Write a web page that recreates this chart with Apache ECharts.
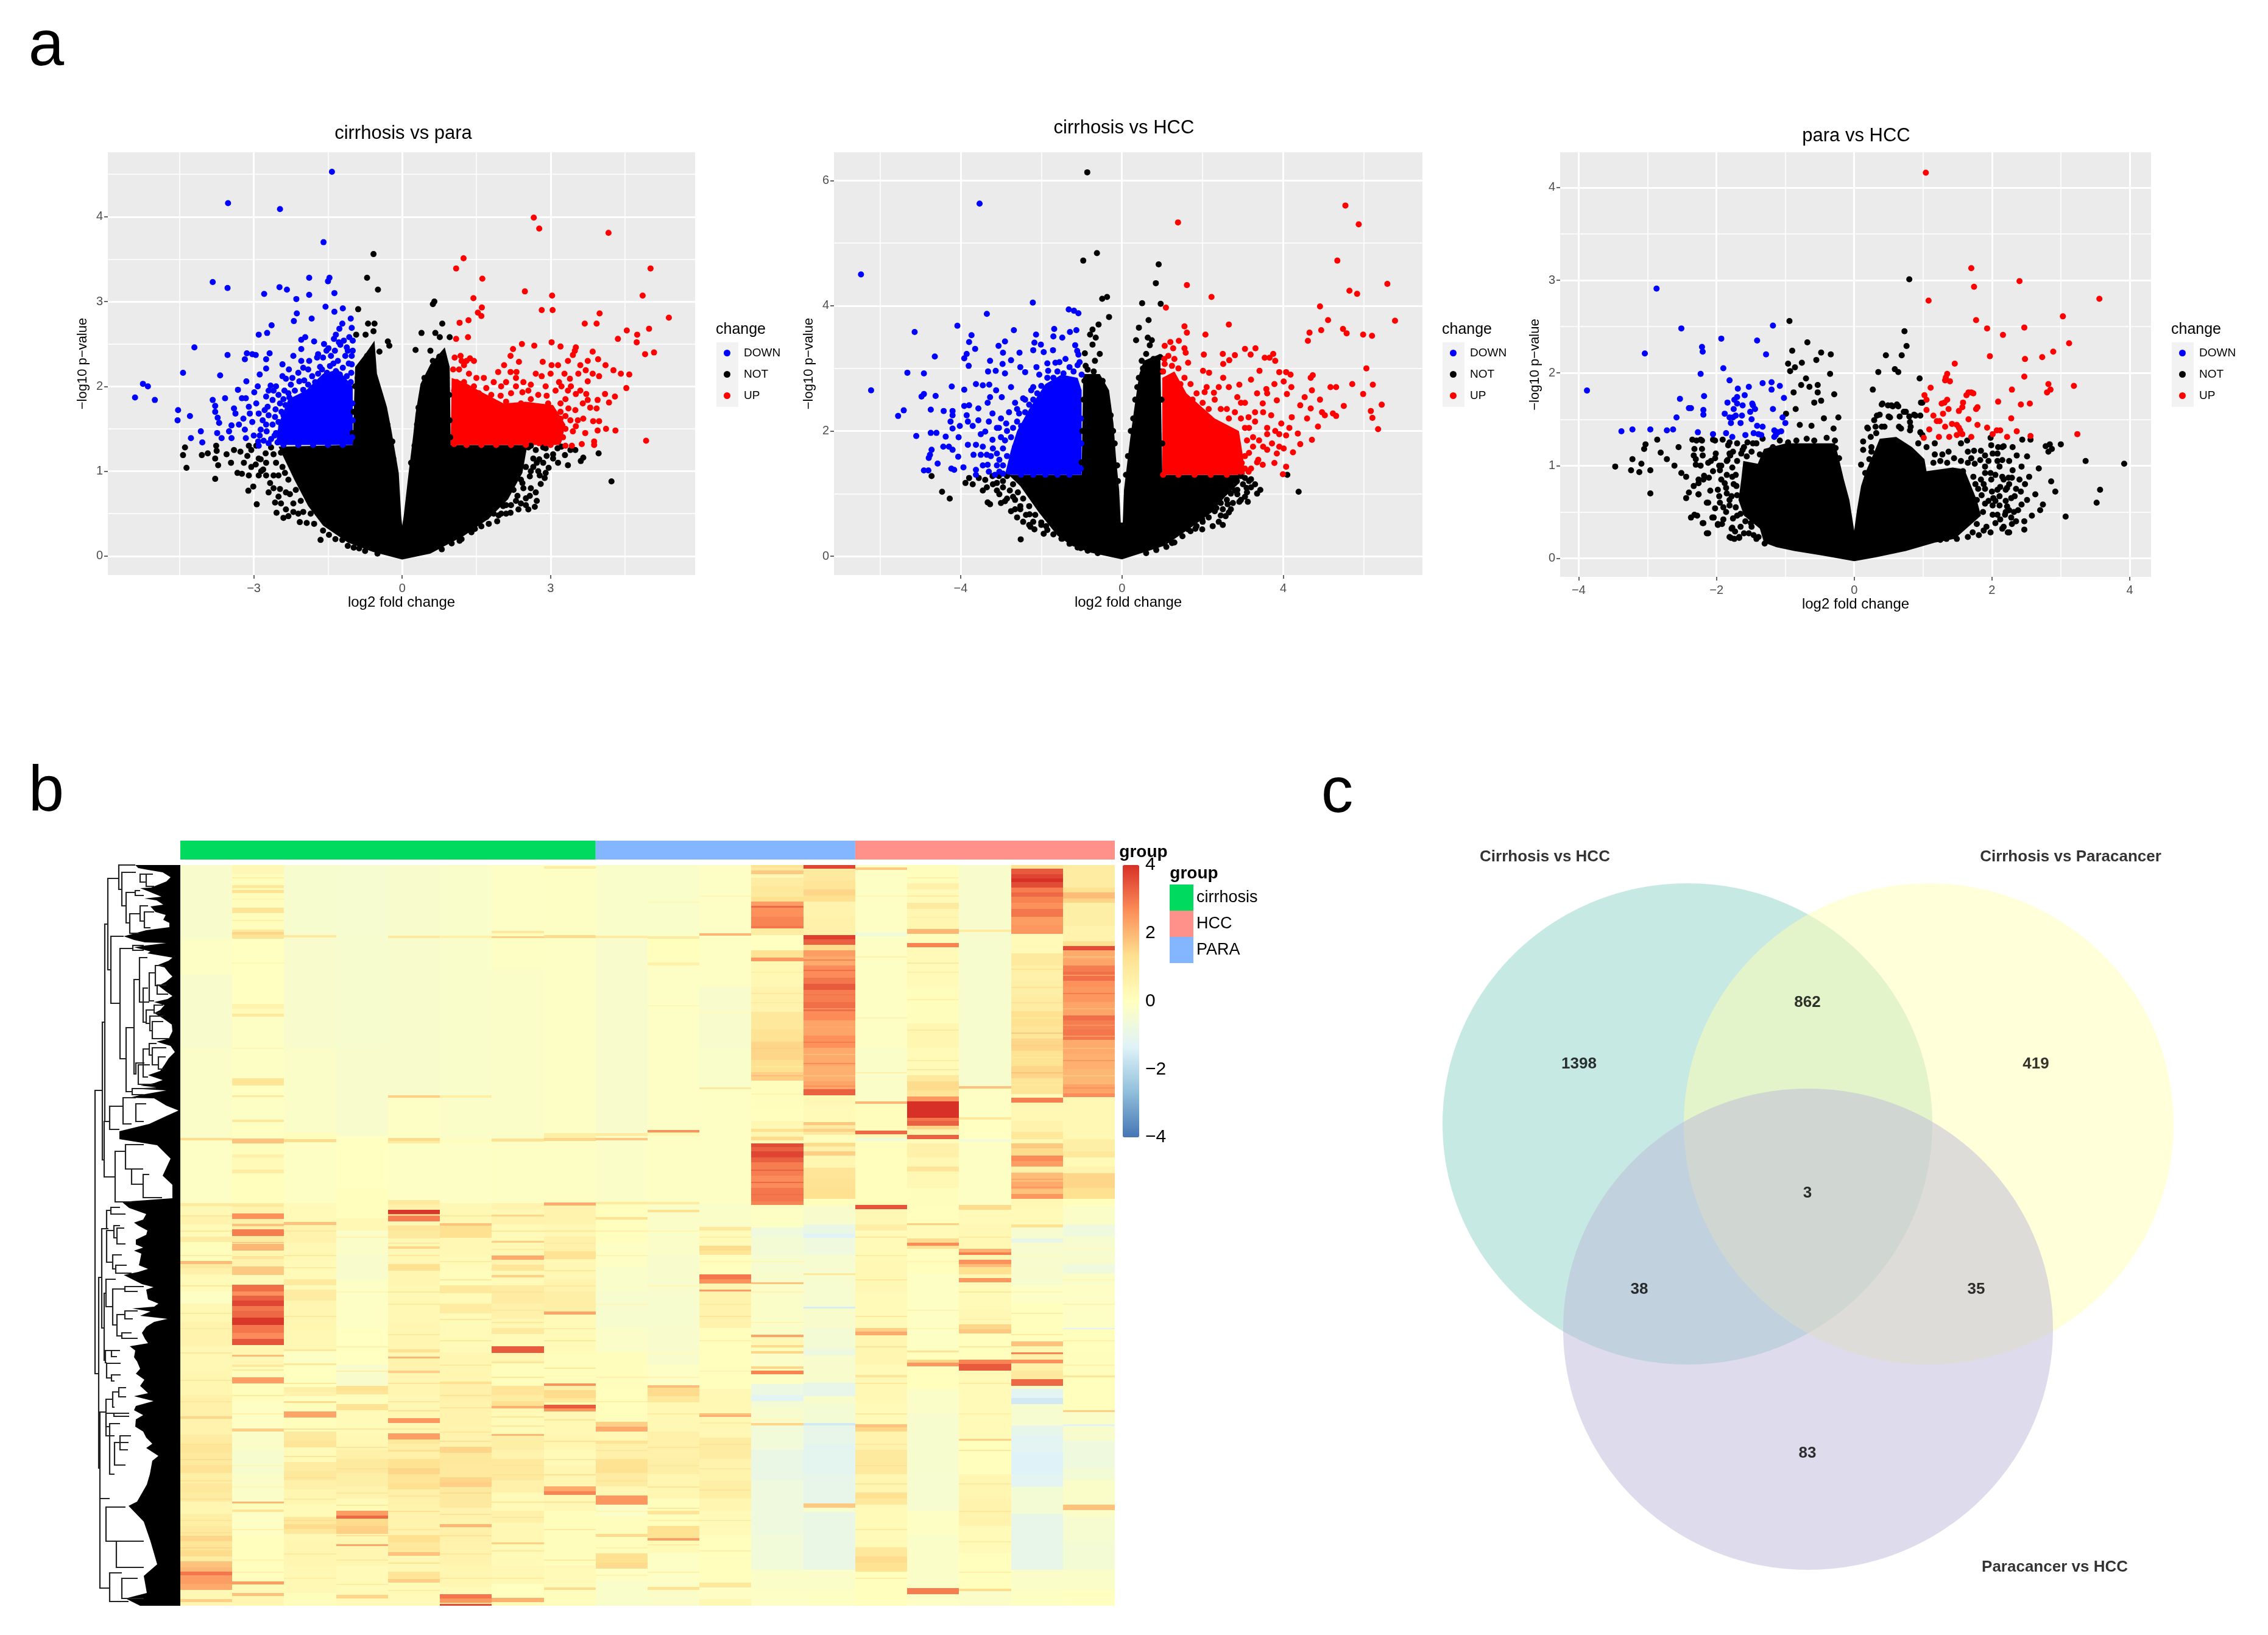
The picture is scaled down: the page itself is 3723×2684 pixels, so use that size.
<!DOCTYPE html>
<html><head><meta charset="utf-8"><style>html,body{margin:0;padding:0;background:#fff}#c{width:3723px;height:2684px}</style>
<script src="https://cdn.jsdelivr.net/npm/echarts@6/dist/echarts.min.js"></script></head>
<body><div id="c"></div>
<script>
// ---------- panel a: volcano plots (log2 fold change, -log10 p) ----------
const p1Down=[[-1.42,4.53],[-3.52,4.16],[-2.47,4.09],[-1.59,3.7],[-1.88,3.28],[-1.47,3.28],[-1.5,3.24],[-3.83,3.23],[-2.48,3.17],[-3.53,3.16],[-2.33,3.14],[-2.79,3.09],[-1.88,3.08],[-1.37,3.1],[-2.14,3.03],[-1.55,2.94],[-1.2,2.92],[-1.37,2.88],[-2.13,2.86],[-1.83,2.8],[-1.04,2.8],[-2.19,2.77],[-1.21,2.74],[-2.64,2.72],[-1.02,2.69],[-1.27,2.68],[-2.73,2.63],[-2.9,2.61],[-1.34,2.61],[-1.96,2.58],[-1.07,2.58],[-1.38,2.56],[-2.04,2.55],[-1.78,2.53],[-1,2.54],[-1.25,2.49],[-4.2,2.46],[-2.04,2.44],[-1.49,2.45],[-1.12,2.46],[-1,2.42],[-1.53,2.42],[-2.68,2.39],[-3.14,2.39],[-3.03,2.38],[-2.96,2.37],[-3.53,2.37],[-1.7,2.38],[-1.72,2.34],[-2.2,2.36],[-3.18,2.32],[-2.75,2.32],[-1.02,2.36],[-2.04,2.3],[-1.88,2.3],[-2.42,2.26],[-1.39,2.27],[-1.02,2.26],[-1.66,2.23],[-2.29,2.2],[-2.75,2.21],[-4.43,2.16],[-3.68,2.13],[-2.88,2.14],[-2.1,2.16],[-2.42,2.12],[-2.35,2.09],[-3.15,2.06],[-5.24,2.03],[-5.14,2],[-2.66,2.01],[-2.92,2],[-1.98,2.07],[-3.32,1.96],[-2.99,1.93],[-5.4,1.87],[-5,1.84],[-3.83,1.84],[-3.58,1.86],[-3.24,1.86],[-3.16,1.86],[-2.75,1.88],[-3.4,1.74],[-3.78,1.77],[-4.53,1.72],[-3.78,1.7],[-3.1,1.76],[-4.29,1.65],[-3.37,1.68],[-3.73,1.63],[-4.54,1.6],[-3.08,1.68],[-3.21,1.62],[-3.7,1.57],[-3.03,1.58],[-3.45,1.54],[-3.3,1.55],[-4.07,1.47],[-3.5,1.47],[-3.74,1.45],[-3.18,1.49],[-2.86,1.49],[-3.65,1.39],[-3.45,1.39],[-4.27,1.39],[-3.16,1.39],[-4.04,1.34],[-2.91,1.35],[-2.57,1.64],[-2.72,1.76],[-2.47,1.8],[-2.6,1.95],[-2.3,1.92],[-2.55,1.45],[-2.65,1.38],[-2.75,1.55],[-2.4,1.85],[-3,1.42],[-2.9,1.68]];
const p1DownEdge=[[-2.88,1.42],[-2.8,1.36],[-2.74,1.47],[-2.7,1.33],[-2.62,1.55],[-2.58,1.42],[-2.52,1.34],[-2.5,1.58],[-2.46,1.47],[-2.4,1.66],[-2.38,1.38],[-2.33,1.56],[-2.3,1.72],[-2.28,1.44],[-2.24,1.62],[-2.21,1.8],[-2.82,1.6],[-2.78,1.72],[-2.7,1.66],[-2.62,1.84],[-2.56,1.73],[-2.5,1.9],[-2.44,1.7],[-2.38,1.95],[-2.36,1.78],[-2.28,1.87],[-2.25,2.02],[-2.17,1.95],[-2.13,1.84],[-2.08,2.06],[-2.05,1.78],[-2,1.96],[-1.96,1.88],[-1.9,2.02],[-1.85,1.95],[-1.82,2.12],[-1.76,2.05],[-1.7,2.15],[-1.66,1.98],[-1.62,2.2],[-1.58,2.08],[-1.52,2.16],[-1.46,2.24],[-1.4,2.12],[-1.34,2.18],[-1.3,2.3],[-1.26,2.14],[-1.2,2.22],[-1.15,2.36],[-1.12,2.12],[-1.08,2.27],[-1.04,2.05],[-1.03,2.16],[-1.6,2.34],[-1.44,2.36],[-1.36,2.42],[-1.28,2.52],[-1.18,2.54],[-1.1,2.42],[-1.58,2.5],[-1.9,2.2],[-2,2.22],[-2.22,2.1],[-2.55,2],[-2.7,1.95],[-2.95,1.8],[-2.9,1.3],[-2.4,1.31],[-2.1,1.31],[-1.8,1.31],[-1.5,1.31],[-1.2,1.31],[-1.01,1.4],[-1,1.6],[-1.01,1.8]];
const p1Up=[[4.17,3.81],[2.66,3.99],[2.77,3.86],[1.24,3.51],[5.02,3.39],[1.09,3.39],[1.62,3.27],[2.48,3.12],[3.03,3.07],[4.86,3.07],[1.44,3.04],[1.61,2.93],[2.82,2.9],[3.04,2.9],[1.53,2.87],[3.99,2.86],[1.6,2.83],[5.39,2.81],[1.34,2.78],[1.16,2.75],[3.69,2.74],[3.93,2.74],[4.99,2.68],[4.54,2.66],[4.75,2.61],[1.33,2.58],[1.09,2.56],[4.36,2.56],[4.74,2.52],[3.02,2.52],[2.42,2.5],[2.67,2.48],[3.2,2.47],[3.51,2.46],[2.24,2.44],[3.49,2.42],[3.85,2.41],[5.09,2.4],[4.91,2.38],[3.45,2.37],[1.18,2.36],[1.06,2.34],[2.19,2.36],[1.37,2.33],[3.96,2.32],[1.45,2.3],[2.36,2.29],[2.84,2.29],[3.02,2.25],[4.11,2.25],[1.25,2.25],[2.06,2.25],[4.27,2.19],[2.19,2.17],[2.31,2.17],[3.71,2.19],[1.94,2.17],[3.28,2.15],[3.56,2.15],[4.42,2.15],[4.59,2.14],[3.98,2.12],[2.82,2.12],[3.17,2.05],[3.75,2.06],[3.39,2.09],[4.53,1.98],[4.1,1.91],[3.22,2],[3.41,2],[4.3,1.88],[3.72,1.91],[3.95,1.84],[4.18,1.81],[3.51,1.91],[3.75,1.84],[2.43,1.93],[2.92,1.89],[1.99,1.89],[3.93,1.74],[3.36,1.74],[3.86,1.59],[3.98,1.59],[3.66,1.62],[3.51,1.53],[3.95,1.48],[4.12,1.5],[4.31,1.48],[4.93,1.36],[3.43,1.3],[3.63,1.32],[3.88,1.35],[3.88,1.31],[3.45,1.47],[3.02,1.39],[3.17,1.37],[2.77,1.33],[3.12,1.52],[1.7,1.98],[2.1,2.05],[2.6,2.02],[1.5,2.1],[1.25,2.05],[3.2,1.8],[3.3,1.65],[3.5,1.72],[3.25,1.4]];
const p1UpEdge=[[1.05,1.32],[1.3,1.31],[1.6,1.31],[1.9,1.31],[2.2,1.31],[2.5,1.31],[2.7,1.42],[2.9,1.33],[3.05,1.55],[3.2,1.62],[3.3,1.5],[3.4,1.6],[3.55,1.6],[3.65,1.8],[3.8,1.75],[3.6,1.95],[3.3,1.85],[3.1,1.95],[2.9,2],[2.75,1.9],[2.55,1.95],[2.6,1.85],[2.4,1.8],[2.3,2],[2.2,1.92],[2.1,1.82],[2,2],[1.85,2.05],[1.8,1.9],[1.65,2.1],[1.55,1.92],[1.45,2],[1.35,2.15],[1.25,2],[1.15,2.2],[1.1,2.05],[1.03,2.2],[1.05,1.95],[1.2,2.3],[1.3,2.3],[2.3,2.1],[2.45,2.05],[2.7,2.15],[3,2.15],[3.15,2.25],[3.35,2.3],[3.6,2.25],[3.75,2.3],[3.85,2.15],[3.35,1.95],[3.7,1.45],[3.3,1.3],[3,1.31],[2.9,1.62],[2.95,1.8],[3.2,1.7]];
const p1Not=[[-0.58,3.56],[-0.71,3.28],[-0.49,3.14],[0.65,3],[0.62,2.97],[-0.89,2.91],[-0.69,2.74],[-0.56,2.74],[0.81,2.74],[-0.93,2.61],[-0.74,2.61],[-0.58,2.65],[-0.29,2.53],[-0.26,2.48],[0.39,2.63],[0.67,2.63],[0.76,2.58],[0.96,2.58],[0.27,2.43],[0.57,2.42],[-0.46,2.41],[-0.71,2.36],[-4.39,1.28],[-4.43,1.19],[-4.36,1.04],[-4.05,1.19],[-3.93,1.21],[-3.76,1.3],[-3.75,1.24],[-3.78,1.15],[-3.72,1.07],[-3.78,0.91],[-3.46,1.1],[-3.27,1.23],[-3.33,0.98],[-3.24,0.97],[-3.11,0.77],[-3.01,0.82],[-2.94,0.61],[-3.13,1.18],[-2.96,1.08],[-2.81,1.02],[-2.67,0.86],[-2.57,0.63],[-2.54,0.51],[-2.3,0.47],[-2.27,0.73],[-2.07,0.4],[-1.93,0.39],[-1.65,0.19],[-1.21,0.19],[-1.1,0.12],[-0.87,0.09],[-2.76,1.21],[-2.86,1.14],[-2.47,0.79],[-2.37,0.98],[-2.6,1.2],[-3.05,1.25],[4.23,0.88],[3.97,1.21],[3.66,1.16],[3.61,1.12],[3.35,1.07],[3.29,1.19],[3.14,1.27],[2.96,1.04],[2.88,0.92],[2.68,0.58],[2.5,0.6],[2.58,0.71],[2.19,0.51],[1.92,0.41],[1.47,0.32],[1.16,0.18],[2.92,1.18],[2.77,1.14],[2.58,0.94],[2.43,0.86],[3.22,1.29],[2.33,0.71],[2.04,0.59],[1.7,0.46],[2.7,1.25],[2.85,1.28],[2.65,1.05]];
const p1NotEdge=[[-2.45,1.22],[-2.55,1.1],[-2.42,1.05],[-2.5,0.95],[-2.3,0.9],[-2.35,0.75],[-2.15,0.78],[-2.2,0.62],[-2.05,0.65],[-2,0.52],[-1.85,0.5],[-1.78,0.38],[-1.6,0.3],[-1.48,0.25],[-1.35,0.2],[-0.98,0.1],[-0.75,0.06],[-0.5,0.03],[-2.65,1.28],[-2.75,1.1],[-2.85,1],[-2.6,0.95],[-1,1.45],[-0.98,1.7],[-0.95,2],[-0.9,2.1],[-0.8,2.2],[-0.7,2.3],[-0.6,2.2],[-0.55,2],[-0.45,1.9],[-0.4,1.7],[-0.3,1.55],[-0.2,1.35],[-0.18,1.15],[0.18,1.1],[0.25,1.3],[0.3,1.55],[0.33,1.75],[0.42,1.9],[0.45,2.1],[0.55,2.15],[0.62,2.3],[0.75,2.35],[0.85,2.3],[0.9,2.1],[0.95,1.9],[0.96,1.6],[0.97,1.4],[2.55,1.28],[2.65,1.15],[2.5,1.05],[2.6,1],[2.4,0.9],[2.45,0.8],[2.25,0.78],[2.3,0.65],[2.1,0.6],[2,0.5],[1.85,0.5],[1.75,0.38],[1.6,0.35],[1.4,0.28],[1.2,0.2],[1,0.15],[0.8,0.08],[2.75,1],[2.85,1.1],[2.8,0.85],[2.7,0.75],[2.55,0.55],[2.35,0.55],[-2.95,1.3],[-3.1,1.3],[-2.9,1.15],[-3.05,1.05],[-2.9,0.95],[-2.75,0.95],[-2.7,0.75],[-2.6,0.8],[-2.5,0.7],[-2.45,0.62],[-2.35,0.55],[-2.2,0.52],[-2.4,0.45],[-2.1,0.5],[-3.2,1.1],[-3.4,1.25],[-3.55,1.2],[-3.1,0.95],[2.6,1.3],[2.72,1.1],[2.9,1.27],[3.05,1.15],[3.15,1.1],[2.9,0.98],[2.78,0.95],[2.72,0.65],[2.6,0.8],[2.5,0.68],[2.4,0.62],[2.2,0.6],[2.1,0.5],[1.95,0.48],[3.05,1.2],[3.4,1.25],[3.5,1.25]];
const p1BlackMass=[[0,-0.04],[-0.6,0.05],[-1.1,0.16],[-1.6,0.36],[-1.9,0.59],[-2.18,0.9],[-2.5,1.29],[-1,1.31],[-0.95,2.23],[-0.75,2.38],[-0.56,2.54],[-0.51,2.15],[-0.31,1.76],[-0.22,1.49],[-0.07,0.98],[-0.02,0.47],[0,0.36],[0.03,0.47],[0.13,0.98],[0.22,1.41],[0.27,1.68],[0.37,2.03],[0.57,2.26],[0.86,2.46],[0.96,2.23],[0.98,1.31],[2.53,1.31],[2.43,0.98],[2.14,0.67],[1.75,0.44],[1.25,0.24],[0.57,0.03]];
const p1BlueMass=[[-1,1.31],[-1,2],[-1.3,2.2],[-1.6,2.15],[-1.95,1.95],[-2.3,1.85],[-2.5,1.55],[-2.55,1.31]];
const p1RedMass=[[0.98,1.31],[1,2.1],[1.25,2.05],[1.55,1.95],[2.05,1.8],[2.5,1.82],[3.05,1.78],[3.3,1.55],[3.2,1.31]];

const p2Down=[[-6.47,4.5],[-3.53,5.63],[-2.21,4.05],[-3.35,3.87],[-1.32,3.94],[-1.19,3.92],[-1.08,3.88],[-4.08,3.68],[-5.14,3.58],[-2.68,3.61],[-1.68,3.63],[-1.13,3.61],[-3.73,3.53],[-2.13,3.54],[-1.7,3.51],[-1.29,3.58],[-1.48,3.49],[-3.79,3.42],[-2.9,3.43],[-3.06,3.36],[-2.17,3.41],[-3.64,3.31],[-2.2,3.29],[-1.16,3.37],[-2.01,3.38],[-1.71,3.29],[-2.54,3.25],[-2.95,3.25],[-3.85,3.23],[-4.64,3.19],[-3.91,3.16],[-1.94,3.26],[-1.11,3.28],[-1.08,3.22],[-3.27,3.12],[-2.75,3.13],[-2.96,3.07],[-3.8,3.04],[-2.52,3.02],[-2.12,3.02],[-1.65,3.09],[-3.32,2.95],[-3.13,2.96],[-5.32,2.93],[-4.91,2.92],[-2.9,2.92],[-2.4,2.94],[-1.83,2.96],[-3.62,2.75],[-3.45,2.73],[-3.29,2.74],[-4.22,2.71],[-3.91,2.66],[-6.22,2.65],[-3.12,2.65],[-2.75,2.7],[-4.91,2.59],[-4.62,2.56],[-4.97,2.55],[-3.27,2.54],[-2.98,2.54],[-3.33,2.45],[-3.79,2.41],[-3.91,2.4],[-5.41,2.33],[-4.74,2.34],[-4.42,2.32],[-4.2,2.32],[-3.56,2.36],[-5.55,2.24],[-4.2,2.25],[-3.85,2.25],[-3.21,2.28],[-4.25,2.15],[-3.56,2.17],[-3.82,2.15],[-4.74,1.97],[-4.6,1.97],[-4.2,2.04],[-5.1,1.92],[-4.02,2.08],[-3.7,2.08],[-4.37,1.91],[-4.05,1.9],[-3.39,1.99],[-4.43,1.75],[-4.29,1.75],[-3.82,1.78],[-3.62,1.78],[-4.2,1.7],[-4.72,1.7],[-4.76,1.62],[-4.06,1.59],[-4.79,1.57],[-3.68,1.62],[-4.57,1.48],[-3.93,1.42],[-4.23,1.4],[-4.16,1.38],[-4.91,1.37],[-4.8,1.37],[-3.62,1.38],[-3.62,1.3],[-3.33,1.46],[-3.1,1.64],[-3.04,1.35],[-3.21,1.86],[-2.87,2.12],[-3.04,1.54],[-2.6,2.35],[-2.4,2.5],[-2.2,2.7],[-2.9,1.85],[-3.05,2.05],[-3.25,1.6],[-3.45,1.75],[-3.45,1.45],[-2.95,1.45]];
const p2DownEdge=[[-2.95,1.32],[-2.8,1.35],[-2.7,1.5],[-2.85,1.6],[-2.95,1.72],[-2.65,1.75],[-2.75,1.9],[-3.1,1.45],[-3.2,1.72],[-3.35,1.62],[-3.5,1.62],[-3.3,1.35],[-3.15,1.3],[-2.85,2],[-2.7,2.05],[-2.6,2.15],[-2.5,2.08],[-2.4,2.3],[-2.3,2.42],[-2.2,2.5],[-2.55,2.28],[-2.45,2.52],[-2.1,2.6],[-2,2.72],[-1.85,2.85],[-1.7,2.85],[-1.6,2.95],[-1.45,2.92],[-1.3,3.02],[-1.2,2.95],[-1.1,3.05],[-1,2.9],[-1.05,3.1],[-1.4,3.15],[-1.55,3.1],[-1.85,3.08],[-2.05,2.9],[-2.25,2.65],[-2.65,2.45],[-2.8,2.3],[-3,2.2],[-3.1,2.05],[-3.3,2.15],[-3.5,1.95],[-3,1.9],[-1.02,1.4],[-1.01,1.8],[-1.02,2.2],[-1.6,1.3],[-2.2,1.3],[-2.5,1.3],[-1.9,1.3],[-1.3,1.3]];
const p2Up=[[5.54,5.6],[5.87,5.3],[1.39,5.33],[5.34,4.72],[6.58,4.35],[1.61,4.33],[5.64,4.24],[5.83,4.19],[2.22,4.14],[4.91,3.99],[1.09,3.97],[5.11,3.77],[6.77,3.76],[2.65,3.7],[1.55,3.67],[5.48,3.63],[4.94,3.61],[4.65,3.57],[5.57,3.56],[1.61,3.57],[2.07,3.54],[5.98,3.54],[6.2,3.52],[4.61,3.44],[1.2,3.42],[1.06,3.36],[1.41,3.44],[1.27,3.32],[1.55,3.32],[3.05,3.31],[3.31,3.32],[1.58,3.25],[2.03,3.22],[2.5,3.23],[2.8,3.21],[3.19,3.22],[3.75,3.23],[3.54,3.17],[3.66,3.17],[3.8,3.12],[2.66,3.13],[2.51,3.07],[1.24,3.04],[1.06,3.07],[1.64,3.09],[6.06,3],[3.41,2.96],[3.9,2.94],[4.07,2.94],[2.01,2.96],[2.16,2.93],[4.18,2.9],[4.73,2.89],[4.68,2.85],[2.51,2.85],[3.2,2.82],[4.01,2.79],[3.78,2.75],[5.71,2.75],[6.22,2.74],[2.91,2.74],[5.17,2.7],[5.31,2.7],[3.58,2.67],[4.71,2.65],[5.98,2.59],[2.05,2.62],[2.28,2.61],[4.53,2.54],[4.91,2.5],[4.09,2.59],[2.86,2.54],[6.44,2.42],[5.5,2.4],[3.84,2.49],[3.49,2.44],[4.42,2.41],[4.68,2.36],[6.17,2.32],[4.96,2.3],[5.23,2.28],[5.03,2.25],[5.31,2.24],[6.21,2.21],[4.59,2.2],[4.21,2.22],[3.14,2.22],[4.86,2.07],[6.35,2.03],[3.95,2.12],[4.36,1.96],[4.07,1.93],[4.71,1.86],[4.42,1.79],[3.72,1.8],[4.01,1.72],[4.24,1.66],[3.84,1.64],[3.49,1.46],[3.78,1.49],[4.07,1.43],[3.99,1.31],[3.38,1.54],[3.14,1.35],[2.97,1.49],[3.3,2.3],[3.6,2.05],[3.25,1.9],[3.5,1.75],[3.15,1.65],[3.9,1.95],[3.05,2.05],[3.35,2.6],[3.05,2.45],[2.6,2.35]];
const p2UpEdge=[[1.02,1.3],[1.4,1.3],[1.8,1.3],[2.2,1.3],[2.6,1.3],[2.95,1.35],[3.05,1.6],[3.1,1.85],[3.25,1.75],[3.4,1.85],[3.6,1.95],[3.8,2],[3.7,2.25],[3.5,2.3],[3.3,2.15],[3.15,2.05],[2.95,2.2],[2.8,2.3],[2.65,2.2],[2.45,2.35],[2.3,2.5],[2.15,2.35],[2,2.45],[1.85,2.6],[1.7,2.75],[1.55,2.85],[1.4,3],[1.3,3.15],[1.15,3.2],[1.02,2.95],[1.05,3.15],[1.45,2.75],[1.2,2.85],[1.75,2.5],[2.1,2.7],[2.4,2.7],[2.65,2.7],[2.95,2.45],[3.6,2.6],[4.2,2.7],[3.2,1.4],[3.35,1.5],[3.6,1.7],[3.9,1.75],[4.15,2.05],[3.05,1.4]];
const p2Not=[[-0.86,6.13],[-0.62,4.84],[-0.96,4.72],[0.91,4.66],[0.84,4.36],[-0.37,4.14],[-0.49,4.11],[0.5,4.04],[0.96,4.03],[-0.32,3.82],[0.66,3.77],[-0.58,3.7],[0.42,3.65],[-0.73,3.62],[-0.79,3.54],[-0.65,3.49],[0.35,3.45],[0.64,3.49],[0.74,3.45],[-0.73,3.38],[0.69,3.37],[-0.55,3.23],[-0.92,3.24],[-0.67,3.12],[-0.9,3.04],[0.95,3.18],[0.6,3.23],[0.49,3.12],[0.72,2.96],[-4.72,1.28],[-4.46,1.03],[-4.27,0.92],[-3.88,1.17],[-3.79,1.25],[-3.45,1.05],[-3.33,0.86],[-3.27,0.83],[-2.9,0.88],[-3.04,0.99],[-2.75,0.72],[-2.51,0.27],[-2.27,0.47],[-2.17,0.43],[-1.94,0.36],[-2,0.54],[-1.88,0.48],[-1.48,0.28],[-1.02,0.13],[-2.52,0.75],[-2.29,0.67],[-3.1,1.17],[-3.21,1.28],[-3.39,1.22],[4.38,1.03],[4.1,1.3],[3.43,1.06],[3.2,1.23],[3.12,0.87],[2.91,0.87],[2.86,0.99],[2.57,0.64],[1.99,0.43],[1.82,0.44],[1.24,0.21],[2.62,0.83],[2.34,0.77],[3.09,1.09],[2.86,1.06],[1.99,0.59],[2.28,0.85],[1.64,0.43]];
const p2NotEdge=[[-2.85,1.28],[-2.95,1.2],[-2.7,1.15],[-2.78,1.05],[-2.58,1.02],[-2.65,0.9],[-2.45,0.92],[-2.52,0.8],[-2.3,0.8],[-2.38,0.66],[-2.15,0.66],[-2.2,0.55],[-2,0.5],[-1.85,0.42],[-1.7,0.35],[-1.5,0.28],[-1.3,0.2],[-1.1,0.14],[-0.85,0.09],[-0.6,0.05],[-1,1.5],[-0.98,2],[-0.95,2.5],[-0.93,2.8],[-0.85,2.98],[-0.7,2.95],[-0.62,2.85],[-0.48,2.8],[-0.42,2.6],[-0.35,2.4],[-0.28,2.25],[-0.22,2],[-0.18,1.8],[-0.12,1.45],[-0.1,1.2],[0.1,1.3],[0.15,1.6],[0.22,2],[0.28,2.2],[0.33,2.5],[0.38,2.7],[0.42,2.85],[0.52,3],[0.62,3.05],[0.78,3.15],[0.88,3.05],[0.98,2.95],[0.98,2.5],[1,1.8],[2.95,1.28],[3,1.15],[2.8,1.05],[2.85,1.2],[2.7,1],[2.6,0.9],[2.45,0.85],[2.5,0.75],[2.3,0.72],[2.15,0.62],[2,0.55],[1.85,0.48],[1.7,0.4],[1.5,0.32],[1.3,0.22],[1.1,0.15],[0.85,0.1],[0.6,0.05],[3.1,1.02],[2.7,0.75],[2.45,0.65],[-3.05,1.28],[-3.1,1.05],[-3.2,1.15],[-3.35,1.1],[-3,0.85],[-2.95,1.1],[-2.85,0.92],[-2.65,0.75],[-2.6,0.62],[-2.45,0.55],[-2.3,0.5],[-2.7,0.95],[-3.55,1.25],[-3.7,1.15],[3.05,1.25],[3.2,1.1],[3.3,1.15],[3.05,0.95],[2.95,0.9],[2.75,0.85],[2.65,0.7],[2.4,0.55],[2.5,0.5],[2.25,0.48],[3.35,1],[3.15,1.2]];
const p2BlackMass=[[0,-0.05],[-0.79,0.06],[-1.25,0.17],[-1.6,0.33],[-2.06,0.7],[-2.52,1.12],[-2.81,1.3],[-1,1.3],[-0.96,2.91],[-0.55,2.91],[-0.32,2.65],[-0.21,2.12],[-0.15,1.59],[-0.07,1.06],[-0.03,0.54],[0.02,0.54],[0.05,1.06],[0.2,1.86],[0.31,2.38],[0.43,2.91],[0.54,3.12],[0.95,3.23],[1,1.3],[2.91,1.3],[2.91,1.17],[2.57,0.96],[2.22,0.7],[1.76,0.48],[1.06,0.17]];
const p2BlueMass=[[-1,1.3],[-1,2.65],[-1.1,2.85],[-1.5,2.9],[-1.9,2.75],[-2.3,2.35],[-2.6,2],[-2.75,1.7],[-2.9,1.3]];
const p2RedMass=[[1,1.3],[1,2.85],[1.3,2.95],[1.6,2.6],[2.3,2.2],[2.9,2],[3,1.6],[3.05,1.3]];

const p3Down=[[-3.88,1.81],[-2.87,2.91],[-3.04,2.21],[-2.51,2.48],[-3.38,1.37],[-3.22,1.39],[-2.96,1.39],[-2.72,1.38],[-2.63,1.39],[-2.58,1.52],[-2.53,1.72],[-2.4,1.62],[-2.37,1.62],[-2.27,1.36],[-2.23,1.99],[-2.21,2.28],[-2.2,2.23],[-2.18,1.75],[-2.19,1.6],[-2.19,1.55],[-2.05,1.34],[-1.93,2.37],[-1.9,2.05],[-1.81,1.92],[-1.84,1.68],[-1.88,1.56],[-1.86,1.35],[-1.81,1.52],[-1.79,1.46],[-1.77,1.31],[-1.76,1.52],[-1.75,1.61],[-1.74,1.71],[-1.7,1.74],[-1.69,1.83],[-1.7,1.67],[-1.72,1.54],[-1.65,1.46],[-1.63,1.54],[-1.62,1.65],[-1.59,1.76],[-1.58,1.33],[-1.53,1.85],[-1.51,1.58],[-1.48,1.67],[-1.47,1.65],[-1.44,1.61],[-1.49,1.5],[-1.41,1.43],[-1.41,2.35],[-1.46,1.35],[-1.39,1.34],[-1.33,1.42],[-1.35,1.33],[-1.33,1.89],[-1.28,2.2],[-1.2,1.9],[-1.2,1.82],[-1.18,2.51],[-1.18,1.61],[-1.08,1.86],[-1.02,1.73],[-1.04,1.52],[-1,1.46],[-1.16,1.38],[-1.14,1.33],[-1.06,1.37],[-1.11,1.36],[-1.16,1.31]];
const p3Up=[[1.04,4.16],[1.7,3.13],[2.4,2.99],[1.74,2.93],[1.08,2.78],[3.56,2.8],[3.03,2.61],[1.77,2.57],[1.93,2.48],[2.47,2.49],[2.16,2.41],[3.12,2.32],[2.89,2.23],[1.97,2.18],[2.48,2.15],[2.73,2.17],[1.46,2.1],[1.35,1.99],[2.47,1.96],[1.33,1.95],[1.32,1.92],[1.39,1.91],[2.82,1.88],[3.19,1.86],[1.11,1.84],[2.29,1.82],[2.85,1.82],[2.8,1.79],[1.66,1.79],[1.7,1.79],[1.73,1.78],[1.63,1.76],[1.02,1.76],[1.05,1.71],[1.35,1.71],[1.31,1.68],[1.27,1.67],[1.58,1.68],[2.09,1.69],[2.42,1.66],[2.55,1.67],[1.57,1.63],[1.79,1.63],[1.77,1.61],[1.37,1.61],[1.05,1.6],[1.52,1.59],[1.29,1.56],[1.15,1.54],[2.28,1.51],[1.66,1.5],[1.2,1.48],[1.24,1.48],[1.42,1.45],[1.49,1.44],[1.52,1.41],[1.32,1.42],[1.79,1.44],[1.93,1.41],[1.09,1.39],[1.54,1.38],[2.07,1.38],[2.12,1.38],[2.01,1.34],[2.36,1.37],[3.24,1.34],[2.56,1.32],[2.22,1.31],[1.7,1.31],[1.57,1.34],[1.49,1.33],[1.38,1.31],[1.23,1.31],[1.01,1.3]];
const p3Not=[[0.8,3.01],[-0.94,2.56],[-0.68,2.33],[-0.9,2.24],[-0.48,2.22],[-0.34,2.2],[0.73,2.45],[0.76,2.29],[0.46,2.19],[0.69,2.19],[0.59,2.04],[0.64,2.01],[0.35,2.01],[0.95,1.94],[-0.55,2.14],[-0.76,2.11],[-0.96,2.1],[-0.86,2.06],[-0.93,2.02],[-0.35,1.99],[-0.7,1.94],[-0.77,1.87],[-0.65,1.85],[-0.53,1.87],[-0.88,1.79],[-0.53,1.79],[-0.29,1.77],[-0.58,1.68],[-0.48,1.7],[0.27,1.82],[0.99,1.68],[0.41,1.67],[0.54,1.65],[0.64,1.64],[0.75,1.58],[0.89,1.54],[-0.99,1.56],[-0.85,1.61],[0.33,1.54],[0.52,1.52],[-0.44,1.51],[-0.23,1.52],[-0.79,1.44],[-0.62,1.43],[-0.3,1.4],[0.2,1.4],[0.4,1.42],[0.68,1.4],[0.82,1.42],[0.96,1.36],[-2.86,1.28],[-3.03,1.23],[-3.05,1.18],[-2.81,1.14],[-2.72,1.07],[-3.22,1.07],[-3.09,1.02],[-3.47,0.99],[-3.24,0.95],[-3.12,0.93],[-2.96,0.95],[-2.61,1],[-2.55,1.2],[-2.96,0.7],[-2.51,0.92],[-2.44,0.88],[-2.35,1.28],[-2.33,1.11],[-2.3,1.01],[-2.23,1.28],[-2.12,1.03],[-2.05,1.28],[-2.26,0.85],[-2.19,0.85],[-1.95,0.95],[-2.37,0.44],[-2.28,0.46],[-2.19,0.38],[-2.12,0.27],[-2.04,0.44],[-2.4,0.71],[-2.44,0.65],[-2.33,0.78],[-2.26,0.69],[-2.12,0.6],[-1.95,0.6],[-1.98,0.37],[-1.79,0.22],[-1.67,0.22],[-1.77,0.33],[-1.98,0.74],[-1.88,0.81],[-1.77,0.88],[-1.81,1.13],[-1.7,1.24],[-1.56,1.1],[-1.42,1.24],[-1.21,1.17],[-1.81,0.63],[-1.7,0.46],[-1.42,0.21],[-1.91,1.28],[-1.84,1.06],[3.92,1.02],[3.36,1.05],[3.57,0.74],[3.52,0.6],[3.07,0.45],[3,1.23],[2.84,1.23],[2.78,1.21],[2.82,1.15],[2.87,1.18],[2.68,0.97],[2.86,0.83],[2.92,0.72],[2.74,0.58],[2.7,0.52],[2.58,0.46],[2.47,0.31],[2.47,0.4],[2.25,0.28],[2.29,0.37],[2.63,0.69],[2.51,0.63],[2.43,0.58],[2.54,0.88],[2.43,0.99],[2.51,1.1],[2.36,1.11],[2.44,1.28],[2.56,1.28],[2.15,1.2],[2.01,1.13],[2.15,1.06],[2.15,0.88],[2.29,0.87],[2.22,0.76],[2.33,0.67],[2.22,0.56],[2.19,0.47]];
const p3NotEdge=[[-2.29,1.27],[-2.21,1.27],[-2.02,1.27],[-2.32,1.18],[-2.21,1.18],[-2.01,1.13],[-2.2,1.11],[-2.3,1.07],[-2.08,1.05],[-1.96,1],[-2.23,1],[-2.05,0.94],[-2.18,0.89],[-2.11,0.87],[-1.93,0.85],[-2.26,0.81],[-1.86,0.76],[-2.09,0.73],[-1.96,0.67],[-2.26,0.69],[-2.14,0.6],[-2.02,0.54],[-1.86,0.5],[-2.32,0.47],[-2.06,0.44],[-2.2,0.38],[-1.98,0.36],[-1.92,0.37],[-2.14,0.27],[-1.78,0.32],[-1.73,0.29],[-1.81,0.23],[-1.74,0.21],[-1.67,0.23],[-1.53,0.27],[-1.46,0.25],[-1.39,0.23],[-1.3,0.16],[-1.76,0.43],[-1.65,0.34],[-1.49,0.34],[-1.71,0.78],[-1.78,0.67],[-1.81,0.57],[-1.81,1.25],[-1.83,1.22],[-1.55,1.25],[-1.47,1.24],[-1.33,1.29],[-1.62,1.17],[-1.49,1.15],[-1.76,1.15],[-1.8,1.11],[-1.64,1.13],[-1.37,1.12],[-1.31,1.07],[-1.18,1.2],[-1.08,1.27],[-0.96,1.25],[-0.84,1.27],[-0.69,1.29],[-0.58,1.27],[-0.4,1.3],[-0.28,1.27],[-0.27,1.19],[-0.22,1.08],[-1.77,0.98],[-1.93,1],[-2.02,1.08],[0.13,1.26],[0.13,1.17],[0.25,1.2],[0.25,1.15],[0.1,1.01],[0.16,0.92],[0.22,1.07],[0.24,1.31],[0.19,1.41],[0.29,1.49],[0.31,1.42],[0.32,1.35],[0.37,1.55],[0.4,1.66],[0.49,1.65],[0.56,1.64],[0.62,1.66],[0.44,1.42],[0.5,1.53],[0.65,1.42],[0.66,1.53],[0.72,1.58],[0.8,1.53],[0.87,1.55],[0.96,1.54],[0.81,1.47],[0.81,1.38],[0.99,1.33],[0.97,1.68],[0.93,1.24],[1.17,1.24],[1.05,1.2],[1.17,1.12],[1.28,1.12],[1.37,1.15],[1.55,1.24],[1.64,1.27],[1.65,1.15],[1.74,1.16],[1.84,1.16],[1.9,1.11],[1.99,1.22],[2.09,1.2],[2.17,1.21],[2.08,1.13],[2.08,1.05],[1.98,1.3],[1.83,1.06],[1.9,0.99],[2.11,0.99],[1.98,0.92],[1.73,0.88],[1.84,0.85],[1.99,0.85],[2.17,0.85],[2.24,0.87],[1.58,0.94],[1.76,0.8],[1.9,0.75],[2.08,0.74],[2.2,0.74],[2.02,0.65],[2.11,0.67],[1.78,0.63],[1.9,0.59],[2.01,0.57],[2.11,0.57],[2.2,0.5],[1.87,0.5],[2.01,0.47],[2.08,0.47],[1.58,0.43],[1.67,0.54],[1.78,0.37],[1.92,0.34],[2.17,0.34],[2.23,0.28],[1.49,0.21],[1.65,0.23],[1.81,0.25],[1.34,0.21],[1.25,0.2],[1.55,0.37],[1.76,0.46],[1.49,0.3],[-1.72,0.9],[-1.75,0.8],[-1.7,0.68],[-1.85,0.7],[-1.72,0.55],[-1.65,0.48],[-1.9,0.55],[-1.58,0.4],[-1.5,0.38],[-1.85,0.9],[-1.7,1.05],[-1.6,1.2],[-1.85,1.05],[-1.9,0.42],[-1.6,0.27],[1.8,0.75],[1.85,0.68],[1.95,0.62],[1.88,0.8],[2,0.72],[2.05,0.9],[2.12,0.77],[2.25,0.8],[2.3,0.95],[2.2,0.62],[2.28,0.65],[2.32,0.5],[2.38,0.52],[2.35,0.75],[2.42,0.72],[2.48,0.8],[2.4,0.85],[1.95,1.05],[1.75,1.02],[1.7,1.08],[1.65,1.03],[1.55,1.05],[1.45,1.08],[1.35,1.03],[1.25,1.05],[1.15,1.03],[2.25,1.05],[2.3,1.2],[2.25,0.52],[2.12,0.42],[2.28,0.44],[2.35,0.4],[2.05,0.38],[1.98,0.28],[2.15,0.32],[1.88,0.3],[1.72,0.28],[2.05,0.62],[1.72,0.5],[1.9,0.92]];
const p3BlackMass=[[0,-0.03],[-0.46,0.03],[-0.87,0.08],[-1.13,0.12],[-1.31,0.17],[-1.37,0.32],[-1.6,0.46],[-1.68,0.63],[-1.64,0.85],[-1.61,1.05],[-1.4,1.02],[-1.31,1.18],[-0.99,1.24],[-0.69,1.24],[-0.28,1.24],[-0.22,1.07],[-0.15,0.85],[-0.07,0.63],[0,0.3],[0.04,0.52],[0.1,0.78],[0.16,0.92],[0.31,1.18],[0.37,1.29],[0.61,1.31],[0.84,1.2],[1.02,1.07],[1.05,0.94],[1.43,0.98],[1.6,0.96],[1.78,0.63],[1.84,0.46],[1.46,0.21],[1.17,0.17],[0.75,0.08],[0.31,0.01]];

// ---------- panel b: heat map, one run-length list per sample column: [last row, z value] ----------
const heatCol0=[[120,-.3],[180,-.15],[300,-.3],[448,-.2],[452,1.4],[555,-.15],[560,.9],[575,.3],[590,.5],[610,.2],[619,.8],[650,.1],[655,1.9],[662,.9],[672,.6],[700,.2],[720,-.1],[750,.3],[790,.5],[830,.3],[870,.4],[905,.6],[909,1.5],[935,.5],[950,.8],[965,1.1],[985,.9],[998,1.2],[1015,.7],[1030,1],[1045,.8],[1065,.4],[1085,.7],[1101,.9],[1110,1.5],[1125,1.1],[1135,1.4],[1143,.8],[1153,1.8],[1160,2],[1166,3],[1180,2.4],[1190,2.2],[1205,.3],[1210,1.6],[1216,.4]];
const heatCol1=[[15,.3],[33,.1],[38,1],[41,.2],[46,1.3],[70,.1],[79,1.1],[106,.1],[110,1],[114,1.5],[121,1.2],[228,-.05],[236,.5],[244,.2],[249,.9],[350,-.1],[362,1.1],[378,-.05],[381,.9],[418,-.1],[422,1],[449,-.05],[457,1.8],[475,.1],[480,.6],[500,.2],[506,.8],[555,.05],[561,.9],[572,.5],[581,2.6],[589,.6],[593,1.8],[598,.7],[609,2.9],[619,.8],[633,2],[642,.4],[647,1.1],[659,.5],[673,1.7],[689,.2],[700,3.1],[707,2.6],[715,3.3],[724,3.7],[732,3],[743,3.2],[755,3.9],[768,3],[778,2.7],[788,3.5],[804,.4],[807,1.9],[820,.3],[824,.9],[841,.1],[851,2.4],[880,.1],[925,-.1],[930,1.6],[960,-.2],[1000,-.35],[1045,-.2],[1048,2],[1058,.1],[1062,1.1],[1100,-.1],[1176,.05],[1181,2.4],[1195,.2],[1200,1.8],[1216,.4]];
const heatCol2=[[115,-.35],[119,1],[300,-.3],[440,-.2],[450,.1],[455,1.4],[555,-.1],[586,.2],[591,1.8],[620,.5],[650,.3],[680,.2],[690,.9],[697,.2],[715,.8],[765,.4],[795,.3],[798,1],[818,-.1],[821,1],[857,0],[865,.7],[872,.5],[880,0],[883,1.4],[897,.1],[907,2.3],[930,.1],[945,.9],[956,1.1],[980,.2],[995,.8],[1010,1],[1025,.6],[1050,.4],[1070,.2],[1082,1],[1090,1.4],[1098,1],[1110,.3],[1150,.4],[1195,.3],[1216,.1]];
const heatCol3=[[115,-.4],[300,-.35],[445,-.3],[530,-.05],[580,.05],[600,.3],[640,-.2],[680,-.3],[760,-.15],[820,-.05],[855,-.3],[862,1.3],[869,1.1],[885,.1],[895,1.2],[935,.2],[960,.3],[975,.6],[998,.9],[1020,.7],[1040,.5],[1060,.2],[1068,2.4],[1073,3.2],[1085,1.4],[1098,1.6],[1115,.4],[1118,2.3],[1150,.4],[1198,.2],[1204,1.5],[1216,.2]];
const heatCol4=[[116,-.3],[120,.9],[378,-.3],[382,1.6],[448,-.15],[453,1.4],[457,.9],[550,-.15],[557,.9],[566,.6],[573,3.9],[576,1.6],[585,2.9],[592,.3],[600,1.1],[613,.9],[626,.3],[630,1.5],[655,.3],[666,1.3],[690,.4],[750,.3],[795,.4],[800,1.2],[807,.3],[810,2],[830,.5],[834,1.6],[870,.4],[908,.3],[916,2.5],[933,.3],[943,2.4],[950,1],[960,.7],[963,1.3],[975,.6],[990,1.2],[1000,1.5],[1015,1.1],[1025,1.3],[1050,.6],[1100,.5],[1112,1.3],[1128,1],[1134,1.8],[1160,.3],[1172,1.1],[1178,1.6],[1216,.2]];
const heatCol5=[[116,-.25],[120,.6],[378,-.25],[382,.7],[450,-.2],[456,.1],[555,-.15],[588,.3],[592,1.8],[612,1.3],[640,.3],[665,.2],[690,.1],[703,1],[720,.2],[736,.8],[800,.2],[848,.4],[852,1.3],[880,.6],[900,.5],[955,.5],[965,1.5],[985,1],[1005,.9],[1013,1.5],[1021,1.6],[1040,.9],[1055,.9],[1082,.5],[1087,2],[1110,.6],[1150,.5],[1185,.4],[1197,.2],[1204,3],[1211,2.5],[1213,.9],[1216,3.6]];
const heatCol6=[[108,-.15],[112,.9],[117,.1],[120,1.6],[170,-.1],[380,-.2],[449,-.2],[454,1.3],[555,-.1],[565,.5],[574,.3],[577,1.5],[590,.5],[617,.2],[620,1.6],[641,.3],[648,2.2],[656,.5],[666,1.1],[673,.3],[677,1.6],[690,.2],[720,.8],[745,.6],[760,.3],[770,.9],[790,.2],[801,3.4],[815,.4],[818,1.1],[855,.1],[870,1.1],[880,.8],[888,1.3],[892,2.1],[900,.3],[934,.2],[937,2],[960,.7],[975,.5],[1010,.9],[1030,.6],[1060,.2],[1080,.6],[1112,.3],[1115,1.6],[1150,.2],[1180,.3],[1203,0],[1210,2.1],[1216,.2]];
const heatCol7=[[2,.05],[6,.8],[115,-.1],[120,1.4],[440,-.15],[448,.7],[453,1.5],[554,-.1],[559,2.2],[590,.5],[610,.3],[634,.6],[647,1.2],[680,.3],[700,.5],[733,.7],[738,2.3],[800,.2],[851,.1],[855,2.6],[862,.6],[875,1.4],[882,1],[886,.3],[892,3.4],[897,2.5],[935,.3],[960,.4],[985,.2],[1020,.4],[1028,2.2],[1034,2.8],[1060,.3],[1100,.1],[1150,.1],[1186,.2],[1190,1.4],[1216,.1]];
const heatCol8=[[116,-.25],[120,.8],[440,-.3],[445,.8],[448,-.2],[452,1.7],[553,-.2],[557,.9],[578,.05],[582,1.3],[620,.05],[660,-.1],[700,-.25],[760,-.35],[800,-.2],[860,.1],[900,.05],[914,.1],[922,1.6],[930,2.2],[945,.3],[950,1.2],[975,.6],[990,1.2],[998,1.3],[1020,.8],[1035,.3],[1050,2.5],[1070,-.2],[1098,.1],[1103,1.4],[1130,.1],[1145,1.3],[1155,1.4],[1175,-.1],[1216,-.25]];
const heatCol9=[[117,-.25],[121,.9],[160,.05],[165,.6],[435,-.15],[439,2.6],[445,.3],[553,-.1],[557,.8],[566,-.2],[570,1.3],[640,-.2],[700,-.3],[760,-.35],[820,-.3],[854,-.15],[858,1.9],[872,1.4],[882,1],[930,.3],[975,.6],[1000,.7],[1040,.4],[1060,.1],[1066,1.1],[1085,.1],[1092,1.3],[1105,1.2],[1109,2.4],[1130,.2],[1185,-.15],[1190,1.2],[1216,-.2]];
const heatCol10=[[112,-.15],[116,2],[200,-.1],[300,-.3],[365,-.25],[368,1],[420,-.1],[555,-.1],[594,-.2],[600,1],[625,.2],[633,1.4],[640,1.1],[672,.05],[680,3],[687,2.6],[697,.4],[700,2.4],[760,.5],[800,.05],[860,.05],[900,.3],[903,1.8],[906,2.1],[940,.3],[975,.8],[1010,.5],[1040,.7],[1060,.4],[1100,.2],[1150,.05],[1178,.05],[1186,1],[1205,-.1],[1216,.3]];
const heatCol11=[[4,1.2],[9,.9],[15,1.7],[21,.3],[35,.8],[45,1],[52,.9],[60,1.3],[67,2.4],[70,3.2],[85,2.6],[100,2.8],[104,3],[115,.8],[140,-.05],[152,1.2],[158,2.5],[200,.3],[241,.5],[270,1],[290,1.2],[320,1.5],[340,1.3],[354,1.6],[400,.1],[420,.05],[433,.3],[438,1.3],[446,.4],[452,1.4],[457,.2],[463,3.6],[470,3.3],[480,3.7],[488,3.3],[510,2.9],[530,2.7],[552,3],[558,2.8],[566,-.1],[595,-.1],[610,-.7],[640,-.5],[672,-.4],[685,-.3],[688,1.8],[720,-.2],[771,-.2],[775,2.3],[788,.3],[792,1.4],[798,.1],[802,1.5],[823,-.2],[827,1.5],[830,.2],[836,2.8],[852,-.1],[870,-.8],[880,-1.2],[890,-.5],[916,-.3],[920,1.5],[960,-.6],[1010,-.9],[1060,-.7],[1100,-.7],[1157,-.6],[1190,-.2],[1216,-.15]];
const heatCol12=[[6,3.7],[25,.9],[40,1.1],[50,1.5],[60,1.3],[85,.5],[115,.6],[122,3.8],[131,3.3],[140,1.4],[150,2.4],[165,2.2],[185,2.7],[195,3],[205,3.4],[225,2.9],[240,3.1],[255,2.7],[280,2.3],[300,2.6],[330,2.2],[355,2.1],[368,2.3],[378,3.3],[395,.3],[422,.2],[427,1.7],[433,.8],[438,1.6],[443,.9],[456,.1],[462,1.4],[470,.6],[477,1.6],[497,.4],[515,1.1],[530,1.2],[548,1.3],[560,.05],[590,-.3],[605,-.9],[612,-1.3],[640,-.7],[670,-.4],[673,1],[680,-.3],[725,-.4],[728,-1.5],[760,-.3],[795,-.5],[805,-.8],[850,-.3],[872,-1],[885,-.3],[916,-.5],[920,-1.6],[950,-1],[1000,-1.15],[1048,-1],[1055,1.7],[1062,-.3],[1100,-.9],[1157,-.9],[1190,-.2],[1216,-.1]];
const heatCol13=[[4,-.1],[8,1.7],[110,-.1],[117,-.6],[300,-.1],[388,-.2],[392,2],[436,.1],[442,3.2],[448,.3],[453,-.6],[555,.05],[558,.3],[565,3.5],[590,.3],[600,.7],[650,.2],[700,.3],[760,.2],[766,1.6],[772,2.2],[820,.4],[837,.2],[841,1.1],[880,.3],[918,.2],[923,1.8],[930,1.5],[960,.5],[1000,.9],[1030,.4],[1040,1.3],[1050,1],[1120,.2],[1135,1],[1145,1.4],[1160,1.2],[1216,.05]];
const heatCol14=[[30,.1],[40,.6],[62,.2],[72,.9],[105,.4],[113,2],[128,.1],[135,2.8],[200,.2],[260,.1],[300,.4],[345,.2],[355,.9],[370,1.4],[380,1.1],[388,2.5],[400,4],[415,4],[420,3],[428,3.3],[434,1.5],[443,.5],[450,3.3],[457,.2],[480,.6],[495,.3],[503,1.1],[530,.3],[560,.1],[588,.05],[591,1.6],[613,.2],[620,1.4],[625,2.7],[630,1.2],[670,.05],[720,-.1],[797,-.1],[800,1.2],[812,.05],[817,1.5],[823,2.5],[860,.05],[900,-.2],[1000,-.35],[1060,-.4],[1100,-.1],[1187,-.2],[1197,2.9],[1216,-.15]];
const heatCol15=[[106,-.3],[110,.8],[200,-.35],[363,-.35],[367,1.8],[414,-.1],[418,1],[450,-.05],[454,-.6],[558,-.1],[566,1.4],[590,.2],[630,.3],[636,2.1],[640,2.9],[648,.4],[655,2.6],[660,1.9],[672,1.3],[678,.3],[685,2.5],[730,.2],[754,.3],[762,1.5],[769,1.7],[812,.05],[819,2.8],[830,3.4],[880,.2],[942,.2],[945,1.6],[1000,.05],[1040,.4],[1085,.5],[1130,.2],[1188,.05],[1192,1.4],[1216,-.2]];
const heatCol16=[[6,1.2],[15,3.4],[22,3.7],[28,4],[37,3.6],[45,2.9],[52,3.2],[62,2.8],[72,2.6],[85,3],[98,2.4],[113,2.5],[145,.2],[165,.9],[190,.6],[215,.7],[240,.8],[265,1.3],[285,1.1],[305,1.5],[330,1.2],[350,1.5],[376,1.1],[382,.2],[390,2.9],[420,.3],[438,.5],[450,1],[457,.3],[465,1.7],[477,1.4],[486,2.7],[495,2.4],[505,.6],[520,1.9],[532,2.2],[540,1.8],[548,2.5],[560,.3],[590,.2],[595,1.2],[613,-.4],[620,-1],[650,-.4],[680,-.3],[690,-.4],[720,-.15],[760,.05],[782,.05],[790,1.8],[800,.4],[803,2.8],[812,.6],[818,2.6],[830,.6],[844,.9],[855,3.2],[860,-.2],[875,-1.2],[885,-1.6],[920,-.4],[935,-1],[965,-1.2],[1000,-1.35],[1021,-1.2],[1065,-.5],[1110,-1],[1157,-1],[1190,-.2],[1216,-.1]];
const heatCol17=[[37,.8],[45,1.3],[55,1.9],[62,1.5],[100,.7],[125,.5],[133,1.3],[140,3.6],[155,2.2],[165,2.3],[175,2.9],[190,3.1],[200,2.6],[225,2.5],[247,2.3],[255,3.1],[270,2.9],[287,3],[310,2.2],[335,2.1],[360,2],[375,2.3],[381,2.7],[420,.3],[450,.3],[470,.7],[480,1],[495,.2],[506,.5],[530,1.5],[548,1.3],[560,.05],[590,-.2],[610,-.7],[640,-.4],[655,-.3],[670,-.7],[690,-.2],[760,-.15],[762,-1.3],[800,.05],[838,.1],[841,1.1],[895,.05],[898,1.6],[918,-.2],[921,-1.3],[945,-.3],[990,-.7],[1010,-.5],[1050,-.2],[1059,1.8],[1070,-.2],[1110,-.4],[1157,-.5],[1190,-.2],[1216,-.05]];
const heatCols=[heatCol0,heatCol1,heatCol2,heatCol3,heatCol4,heatCol5,heatCol6,heatCol7,heatCol8,heatCol9,heatCol10,heatCol11,heatCol12,heatCol13,heatCol14,heatCol15,heatCol16,heatCol17];
// thin stripes seen inside the wider runs: [column, row, z value]
const heatStripes=[[0,575,1],[0,600,.9],[0,640,.8],[0,690,.9],[0,735,1],[0,760,.8],[0,800,1],[0,845,.9],[0,880,1],[0,950,1.3],[0,975,1.4],[0,1010,1.2],[0,1040,1.3],[0,1075,1.1],[0,1095,1.3],[0,1120,1.5],
[1,20,.7],[1,55,.5],[1,90,.6],[1,160,.4],[1,300,.3],[1,620,1.2],[1,828,.9],[1,870,.8],[1,900,.6],[1,985,.3],[1,1020,.3],[1,1090,.6],[1,1140,.5],[1,1160,.6],
[2,600,1],[2,640,.9],[2,660,.8],[2,740,1],[2,850,1],[2,925,1.2],[2,970,1.1],[2,1005,1.3],[2,1040,1],[2,1075,1.3],[2,1130,.9],[2,1170,.7],
[3,610,.5],[3,700,.4],[3,790,.6],[3,830,.7],[3,925,1],[3,955,1.1],[3,990,1.3],[3,1030,1],[3,1050,.9],[3,1100,1.2],[3,1140,.9],[3,1180,.8],
[4,620,1],[4,640,1],[4,700,1],[4,720,.9],[4,770,1],[4,850,1.1],[4,880,1],[4,895,1.3],[4,925,1],[4,1035,1.1],[4,1060,1.3],[4,1090,1],[4,1145,1.2],[4,1190,.8],
[5,575,.9],[5,650,.8],[5,680,.9],[5,745,1],[5,780,.9],[5,820,1],[5,870,1.2],[5,890,1.1],[5,930,1],[5,945,1.2],[5,1030,1.4],[5,1065,1.2],[5,1100,1.2],[5,1130,1],[5,1170,.9],
[6,600,1],[6,630,.8],[6,700,1.1],[6,730,.9],[6,750,1],[6,840,1],[6,905,1.1],[6,920,1],[6,985,1.1],[6,1000,1.2],[6,1045,1],[6,1070,1],[6,1125,.9],[6,1170,.8],
[7,600,1],[7,620,.8],[7,665,1],[7,690,.9],[7,760,.8],[7,780,.9],[7,825,1],[7,910,1.1],[7,945,1.1],[7,975,1],[7,1000,1.3],[7,1045,1.1],[7,1090,.8],[7,1140,.8],
[8,600,.6],[8,640,.5],[8,720,.4],[8,840,.6],[8,880,.7],[8,960,1],[8,1010,1.1],[8,1060,.4],[8,1120,.6],[8,1165,.5],
[9,60,.3],[9,230,.3],[9,600,.4],[9,690,.3],[9,800,.2],[9,840,.5],[9,900,.8],[9,955,1.1],[9,985,1],[9,1020,1.1],[9,1055,.9],[9,1075,.6],[9,1115,.8],[9,1160,.6],
[10,50,.3],[10,240,.2],[10,610,.7],[10,650,.5],[10,720,.9],[10,740,1.1],[10,780,.6],[10,830,.5],[10,915,.8],[10,950,1.1],[10,990,1],[10,1025,1.1],[10,1075,.8],[10,1125,.6],
[11,175,.7],[11,210,.9],[11,225,.8],[11,300,1.6],[11,330,1],[11,345,1.9],[11,375,.5],[11,500,3.3],[11,520,3.2],[11,540,3.1],[11,650,.4],[11,700,.5],[11,750,.4],[11,910,.3],
[12,155,2.8],[12,172,3.1],[12,212,3],[12,235,2.6],[12,265,2.2],[12,290,2.9],[12,310,1.9],[12,325,2.7],[12,345,1.8],[12,362,2.6],
[13,50,.3],[13,150,.6],[13,250,.5],[13,340,.6],[13,610,1],[13,640,.8],[13,680,.9],[13,740,1],[13,790,1.2],[13,850,1],[13,900,.9],[13,950,1],[13,985,1.3],[13,1015,1.1],[13,1090,.8],[13,1170,.7],
[14,20,.6],[14,50,.8],[14,85,.6],[14,160,.9],[14,175,.7],[14,220,.6],[14,270,.9],[14,320,.8],[14,335,1],[14,650,.5],[14,730,.5],[14,760,.4],
[15,610,.8],[15,700,1],[15,745,.6],[15,790,.9],[15,850,.8],[15,900,.6],[15,960,.9],[15,1015,.9],[15,1060,1],[15,1110,.8],[15,1160,.7],
[16,170,1.3],[16,200,1.2],[16,225,1.3],[16,250,1],[16,275,1.7],[16,295,1.6],[16,315,1],[16,340,1.8],[16,360,.9],[16,515,2.3],[16,528,2.5],[16,640,.1],[16,700,.3],[16,735,.7],[16,770,.8],
[17,150,1.8],[17,180,2.5],[17,210,2.9],[17,235,2],[17,262,2.6],[17,280,2.5],[17,300,1.9],[17,320,2.5],[17,345,1.7],[17,365,2.6],[17,630,.2],[17,680,.3],[17,720,.5],[17,780,.6],[17,820,.6]];
const groupSpans=[['cirrhosis',0,8,'#00DA5F'],['PARA',8,13,'#84B5FF'],['HCC',13,18,'#FF918A']];
const groupLegend=['cirrhosis','HCC','PARA'];
const heatScale=['#4575B4','#91BFDB','#E0F3F8','#FFFFBF','#FEE090','#FC8D59','#D73027'];
// dendrogram: leaf-side silhouette [row, height], and merges [height, row1, row2, child height 1, child height 2]
const dendroMass=[[0,74],[5,69],[8,53],[12,29],[20,16],[27,23],[35,43],[37,48],[38,66],[43,53],[52,31],[55,59],[58,39],[65,28],[68,49],[77,41],[82,24],[90,28],[95,18],[102,18],[107,56],[117,93],[123,76],[127,58],[128,23],[132,56],[135,76],[142,49],[145,54],[152,13],[157,19],[165,39],[168,26],[177,19],[183,13],[192,24],[198,36],[208,23],[215,13],[220,21],[225,43],[230,26],[238,33],[243,43],[252,28],[262,14],[273,13],[285,19],[290,39],[297,16],[307,9],[317,19],[328,26],[338,33],[345,53],[353,29],[358,43],[362,66],[365,39],[367,81],[370,23],[377,63],[382,84],[383,43],[395,23],[403,3],[412,23],[425,51],[437,100],[450,100],[460,38],[482,16],[510,29],[525,13],[547,13],[553,96],[563,84],[573,56],[582,61],[587,76],[592,69],[600,54],[607,56],[615,73],[623,73],[628,61],[633,76],[638,64],[648,66],[657,68],[663,53],[668,69],[673,93],[680,79],[688,63],[693,44],[697,56],[713,53],[720,36],[725,43],[728,79],[733,49],[740,66],[745,21],[750,43],[758,56],[768,63],[778,58],[785,53],[790,83],[797,74],[808,76],[815,71],[827,66],[835,73],[845,59],[855,66],[867,53],[872,76],[880,44],[888,73],[895,76],[903,61],[910,73],[922,74],[930,61],[940,56],[950,46],[957,56],[970,36],[978,46],[1000,50],[1017,55],[1045,71],[1052,85],[1078,60],[1110,49],[1148,38],[1167,60],[1195,55],[1204,90],[1216,66]];
const dendroMerges=[[140,370,835,128,134],[128,258,484,124,125],[124,97,421,119,116],[119,22,172,101,114],[101,0,40,74,96],[96,12,67,73,89],[89,45,95,74,83],[83,80,112,66,68],[66,67,92,53,59],[59,77,103,43,49],[74,42,50,66,60],[66,15,28,53,56],[56,15,35,45,43],[114,117,227,93,99],[99,137,318,78,89],[78,132,140,60,60],[89,267,372,76,79],[76,188,343,68,73],[67,152,225,54,51],[51,177,223,41,43],[41,165,198,28,36],[38,197,212,23,20],[61,202,258,53,56],[56,238,260,43,50],[43,230,243,28,33],[50,248,272,28,46],[46,257,285,28,19],[73,325,343,59,74],[61,302,348,51,53],[51,293,312,39,46],[46,300,328,23,36],[36,315,335,24,28],[79,367,377,40,60],[69,328,360,50,45],[116,396,434,94,100],[94,382,425,73,80],[73,392,421,56,60],[125,421,512,116,107],[107,470,553,90,80],[90,459,499,60,80],[80,499,524,61,61],[61,508,546,51,30],[129,597,760,121,125],[134,677,990,129,132],[121,567,597,114,118],[114,562,573,99,90],[121,600,652,109,111],[109,592,612,99,104],[104,596,622,92,90],[111,640,663,96,106],[106,657,670,88,80],[122,680,725,106,111],[111,696,755,91,104],[104,738,773,91,96],[91,692,700,60,70],[91,732,745,70,78],[96,768,777,80,70],[125,703,813,122,123],[123,797,817,113,121],[113,797,807,99,104],[121,818,842,98,113],[113,837,847,98,108],[122,877,922,111,116],[111,865,890,101,108],[101,858,873,89,89],[132,898,1040,122,116],[122,900,937,109,108],[109,900,905,84,84],[116,917,1000,99,108],[99,937,960,81,86],[108,948,985,85,90],[105,1110,1153,60,60],[122,1054,1110,90,105],[116,1162,1209,96,85],[96,1171,1204,70,60],[132,1040,1187,122,116]];

// ---------- panel c: Venn diagram ----------
const vennCircles=[[470,465,402,395,'#8DD3C7'],[866,465,402,395,'#FFFFB3'],[668,802,402,395,'#BEBADA']];
const vennCounts=[[292,367,'1398'],[667,266,'862'],[1042,367,'419'],[667,579,'3'],[391,737,'38'],[944,737,'35'],[667,1006,'83']];
const vennSets=[[236,27,'Cirrhosis vs HCC'],[1099,27,'Cirrhosis vs Paracancer'],[1073,1193,'Paracancer vs HCC']];

// ---------- layout ----------
const FONT='"Liberation Sans",Arial,sans-serif';
const minus=v=>String(v).replace('-','\u2212');
const panels=[
 {title:'cirrhosis vs para',tx:657,ty:214,left:177,right:1141,top:250,bottom:944,xr:[-5.95,5.92],yr:[-0.224,4.76],xM:[-3,0,3],xm:[-4.5,-1.5,1.5,4.5],yM:[0,1,2,3,4],ym:[.5,1.5,2.5,3.5,4.5],down:p1Down.concat(p1DownEdge),up:p1Up.concat(p1UpEdge),not:p1Not.concat(p1NotEdge),black:p1BlackMass,blue:p1BlueMass,red:p1RedMass,lx:1176},
 {title:'cirrhosis vs HCC',tx:1840,ty:205,left:1369,right:2335,top:250,bottom:944,xr:[-7.14,7.45],yr:[-0.3,6.45],xM:[-4,0,4],xm:[-6,-2,2,6],yM:[0,2,4,6],ym:[1,3,5],down:p2Down.concat(p2DownEdge),up:p2Up.concat(p2UpEdge),not:p2Not.concat(p2NotEdge),black:p2BlackMass,blue:p2BlueMass,red:p2RedMass,lx:2368},
 {title:'para vs HCC',tx:3042,ty:218,left:2561,right:3531,top:250,bottom:947,xr:[-4.27,4.31],yr:[-0.2,4.38],xM:[-4,-2,0,2,4],xm:[-3,-1,1,3],yM:[0,1,2,3,4],ym:[.5,1.5,2.5,3.5],down:p3Down,up:p3Up,not:p3Not.concat(p3NotEdge),black:p3BlackMass,blue:null,red:null,lx:3565}
];
const grid=[],xAxis=[],yAxis=[],series=[],legend=[],title=[],graphic=[];
const T=(text,left,top,size,extra)=>title.push({text,left,top,textAlign:'center',textVerticalAlign:'middle',textStyle:Object.assign({fontFamily:FONT,fontSize:size,fontWeight:'normal',color:'#000'},extra||{})});
const polygon=(name,pts,fill,gi)=>series.push({type:'custom',name,xAxisIndex:gi,yAxisIndex:gi,clip:true,silent:true,animation:false,data:[pts[0]],
  renderItem:(p,api)=>({type:'polygon',shape:{points:pts.map(q=>api.coord(q))},style:{fill}})});
const dots=(name,data,color,xi,yi)=>series.push({type:'scatter',name,xAxisIndex:xi,yAxisIndex:yi,data,symbol:'circle',symbolSize:10,itemStyle:{color,opacity:1},silent:true,animation:false,clip:true,large:false});

// volcano panels: each has a major axis and a minor-gridline axis
panels.forEach(P=>{
  const g=grid.length;
  grid.push({left:P.left,top:P.top,width:P.right-P.left,height:P.bottom-P.top,show:true,backgroundColor:'#EBEBEB',borderWidth:0,containLabel:false});
  const xi=xAxis.length,yi=yAxis.length;
  xAxis.push({type:'value',gridIndex:g,min:P.xr[0],max:P.xr[1],name:'log2 fold change',nameLocation:'middle',nameGap:29,nameTextStyle:{fontFamily:FONT,fontSize:24,color:'#000'},
    axisLine:{show:false,onZero:false},axisTick:{show:true,length:6,customValues:P.xM,lineStyle:{color:'#333',width:1.5}},axisLabel:{customValues:P.xM,fontFamily:FONT,fontSize:20,color:'#4D4D4D',margin:12,formatter:minus},splitLine:{show:true,lineStyle:{color:'#fff',width:3}},z:1});
  yAxis.push({type:'value',gridIndex:g,min:P.yr[0],max:P.yr[1],name:'\u2212log10 p\u2212value',nameLocation:'middle',nameGap:30,nameTextStyle:{fontFamily:FONT,fontSize:22,color:'#000'},
    axisLine:{show:false,onZero:false},axisTick:{show:true,length:6,customValues:P.yM,lineStyle:{color:'#333',width:1.5}},axisLabel:{customValues:P.yM,fontFamily:FONT,fontSize:20,color:'#4D4D4D',margin:8,formatter:minus},splitLine:{show:true,lineStyle:{color:'#fff',width:3}},z:1});
  xAxis.push({type:'value',gridIndex:g,min:P.xr[0],max:P.xr[1],axisLine:{show:false,onZero:false},axisTick:{show:false,customValues:P.xm},axisLabel:{show:false},splitLine:{show:true,lineStyle:{color:'#fff',width:1.5}},z:0});
  yAxis.push({type:'value',gridIndex:g,min:P.yr[0],max:P.yr[1],axisLine:{show:false,onZero:false},axisTick:{show:false,customValues:P.ym},axisLabel:{show:false},splitLine:{show:true,lineStyle:{color:'#fff',width:1.5}},z:0});
  polygon('mass',P.black,'#000',xi);
  dots('NOT',P.not,'#000000',xi,yi);
  if(P.blue)polygon('massDown',P.blue,'#0000FF',xi);
  if(P.red)polygon('massUp',P.red,'#FF0000',xi);
  dots('DOWN',P.down,'#0000FF',xi,yi);
  dots('UP',P.up,'#FF0000',xi,yi);
  T(P.title,P.tx,P.ty,31);
  T('change',P.lx+35,P.top+286,25);
  graphic.push({type:'rect',left:P.lx,top:562,shape:{width:36,height:106},style:{fill:'#F2F2F2'},z:-1});
  legend.push({data:['DOWN','NOT','UP'],orient:'vertical',left:P.lx+12,top:570,itemWidth:11,itemHeight:11,itemGap:16,padding:0,icon:'circle',selectedMode:false,textStyle:{fontFamily:FONT,fontSize:19,color:'#000',padding:[0,0,0,17]}});
});

// heat map annotation strip
let gi=grid.length;
grid.push({left:296,top:1380,width:1534,height:31,show:false});
xAxis.push({type:'value',gridIndex:gi,min:0,max:18,show:false});
yAxis.push({type:'value',gridIndex:gi,min:0,max:1,show:false});
const annoAxis=xAxis.length-1;
groupSpans.forEach(([name,a,b,color])=>series.push({type:'custom',name,xAxisIndex:annoAxis,yAxisIndex:annoAxis,silent:true,animation:false,itemStyle:{color},data:[[a,b]],
  renderItem:(p,api)=>{const s=api.coord([api.value(0),1]),e=api.coord([api.value(1),0]);return {type:'rect',shape:{x:s[0],y:s[1],width:e[0]-s[0],height:e[1]-s[1]},style:{fill:color}};}}));
legend.push({data:groupLegend,orient:'vertical',left:1920,top:1452,itemWidth:39,itemHeight:43,itemGap:0,padding:0,icon:'rect',selectedMode:false,textStyle:{fontFamily:FONT,fontSize:27,color:'#000'}});
T('group',1872,1394,28,{fontWeight:'bold'});
T('group',1955,1429,28,{fontWeight:'bold'});

// heat map cells
gi=grid.length;
grid.push({left:296,top:1420,width:1534,height:1216,show:false});
xAxis.push({type:'value',gridIndex:gi,min:0,max:18,show:false});
yAxis.push({type:'value',gridIndex:gi,min:0,max:1216,inverse:true,show:false});
const heatAxis=xAxis.length-1;
const heatData=[];
heatCols.forEach((col,c)=>{let start=0;col.forEach(([end,z])=>{heatData.push([c,start,end,z]);start=end;});});
heatStripes.forEach(([c,r,z])=>heatData.push([c,r,r+2,z]));
const heatSeries=series.length;
series.push({type:'custom',name:'heat',xAxisIndex:heatAxis,yAxisIndex:heatAxis,silent:true,animation:false,progressive:0,data:heatData,encode:{x:0,y:[1,2]},
  renderItem:(p,api)=>{const a=api.coord([api.value(0),api.value(1)]),b=api.coord([api.value(0)+1,api.value(2)]);
    return {type:'rect',shape:{x:Math.round(a[0]),y:Math.round(a[1]),width:Math.round(b[0])-Math.round(a[0]),height:Math.max(1,Math.round(b[1])-Math.round(a[1]))},style:{fill:api.visual('color')}};}});

// colour bar axis
gi=grid.length;
grid.push({left:1843,top:1420,width:27,height:447,show:false});
xAxis.push({type:'value',gridIndex:gi,min:0,max:1,show:false});
yAxis.push({type:'value',gridIndex:gi,min:-4,max:4,interval:2,position:'right',axisLine:{show:false},axisTick:{show:false},splitLine:{show:false},axisLabel:{fontFamily:FONT,fontSize:30,color:'#000',margin:10,formatter:minus}});

// dendrogram
gi=grid.length;
grid.push({left:150,top:1420,width:146,height:1216,show:false});
xAxis.push({type:'value',gridIndex:gi,min:0,max:146,inverse:true,show:false});
yAxis.push({type:'value',gridIndex:gi,min:0,max:1216,inverse:true,show:false});
const dAxis=xAxis.length-1;
series.push({type:'custom',name:'dendroMass',xAxisIndex:dAxis,yAxisIndex:dAxis,silent:true,animation:false,clip:false,data:[dendroMass[0]],
  renderItem:(p,api)=>{const pts=[api.coord([0,0])].concat(dendroMass.map(([r,d])=>api.coord([d,r])),[api.coord([0,1216])]);return {type:'polygon',shape:{points:pts},style:{fill:'#000'}};}});
series.push({type:'custom',name:'dendroMerges',xAxisIndex:dAxis,yAxisIndex:dAxis,silent:true,animation:false,clip:false,data:dendroMerges,encode:{x:0,y:1},
  renderItem:(p,api)=>{const d=api.value(0),r1=api.value(1),r2=api.value(2),c1=api.value(3),c2=api.value(4);
    return {type:'polyline',shape:{points:[api.coord([c1,r1]),api.coord([d,r1]),api.coord([d,r2]),api.coord([c2,r2])]},style:{stroke:'#222',lineWidth:2.2,fill:null}};}});

// Venn diagram
gi=grid.length;
grid.push({left:2300,top:1380,width:1400,height:1250,show:false});
xAxis.push({type:'value',gridIndex:gi,min:0,max:1400,show:false});
yAxis.push({type:'value',gridIndex:gi,min:0,max:1250,inverse:true,show:false});
const vAxis=xAxis.length-1;
series.push({type:'custom',name:'venn',xAxisIndex:vAxis,yAxisIndex:vAxis,silent:true,animation:false,clip:false,data:vennCircles.map(c=>c.slice(0,4)),encode:{x:0,y:1},
  renderItem:(p,api)=>{const c=api.coord([api.value(0),api.value(1)]),s=api.size([api.value(2),api.value(3)]);
    return {type:'ellipse',shape:{cx:c[0],cy:c[1],rx:s[0],ry:s[1]},style:{fill:vennCircles[p.dataIndex][4],opacity:.5}};}});
[vennCounts,vennSets].forEach((list,k)=>series.push({type:'scatter',name:k?'vennSets':'vennCounts',xAxisIndex:vAxis,yAxisIndex:vAxis,silent:true,animation:false,symbolSize:0,
  data:list.map(d=>({value:[d[0],d[1]],name:d[2]})),label:{show:true,position:'inside',formatter:'{b}',fontFamily:FONT,fontSize:26,fontWeight:'bold',color:'#000'}}));

// panel letters
T('a',71,73,105);T('b',71,1297,105);T('c',2190,1299,105);

const chart=echarts.init(document.getElementById('c'),null,{renderer:'canvas',width:3723,height:2684});
chart.setOption({animation:false,backgroundColor:'#fff',title,grid,xAxis,yAxis,series,legend,graphic,tooltip:{show:false},
  visualMap:[{type:'continuous',seriesIndex:heatSeries,dimension:3,min:-4,max:4,left:1843,top:1420,itemWidth:27,itemHeight:447,padding:0,text:null,calculable:false,realtime:false,inRange:{color:heatScale},showLabel:false,hoverLink:false,textStyle:{fontSize:1,color:'rgba(0,0,0,0)'}}]});
</script></body></html>
